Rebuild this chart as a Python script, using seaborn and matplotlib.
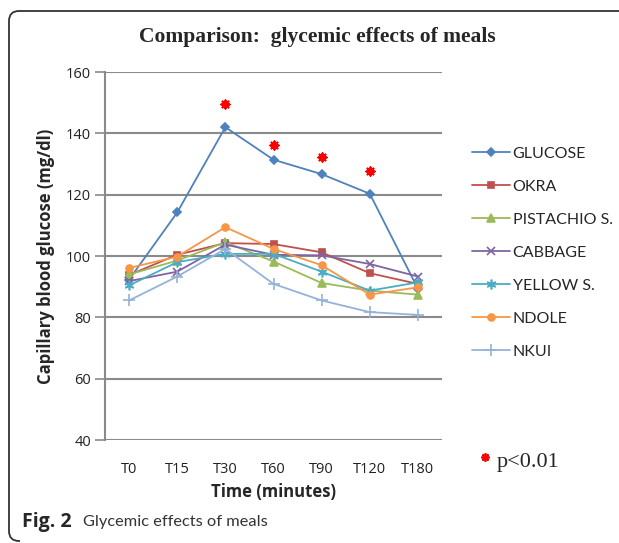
import matplotlib
matplotlib.use("Agg")
import matplotlib.pyplot as plt
from matplotlib.path import Path
from matplotlib.lines import Line2D
import matplotlib.patches as patches
from matplotlib.transforms import IdentityTransform
import seaborn as sns
import pandas as pd

times = ["T0", "T15", "T30", "T60", "T90", "T120", "T180"]
meals = ["GLUCOSE", "OKRA", "PISTACHIO S.", "CABBAGE", "YELLOW S.", "NDOLE", "NKUI"]
glucose = [92.3, 114.2, 142.0, 131.4, 126.7, 120.3, 89.3]
okra = [93.8, 100.4, 104.2, 103.9, 101.2, 94.4, 90.9]
pistachio = [94.0, 98.5, 104.5, 98.2, 91.2, 88.7, 87.4]
cabbage = [91.8, 94.9, 103.7, 100.4, 100.2, 97.4, 93.3]
yellow = [90.4, 98.0, 100.7, 100.7, 94.9, 88.7, 91.4]
ndole = [96.1, 99.8, 109.4, 102.3, 97.0, 87.4, 89.8]
nkui = [85.5, 93.3, 102.3, 90.9, 85.5, 81.7, 80.8]
sig_times = ["T30", "T60", "T90", "T120"]
sig_values = [149.7, 136.3, 132.3, 127.7]

series = [glucose, okra, pistachio, cabbage, yellow, ndole, nkui]
colors = ["#4F81BD", "#C0504D", "#9BBB59", "#8064A2", "#4BACC6", "#F79646", "#95B3D7"]
marks = ["D", "s", "^", "x", (6, 2, 0), "o", "+"]
msizes = [4, 5, 6, 6, 7, 5, 8]

rows = []
for m, vals in zip(meals, series):
    for t, v in zip(times, vals):
        rows.append({"time": t, "value": v, "meal": m})
df = pd.DataFrame(rows)

sns.set_style("white")
fig = plt.figure(figsize=(6.19, 5.43), dpi=100)
ax = fig.add_axes([105 / 619, 1 - 440 / 543, (442 - 105) / 619, (440 - 72) / 543])

for m, c, mk, ms in zip(meals, colors, marks, msizes):
    sub = df[df["meal"] == m]
    sns.lineplot(data=sub, x="time", y="value", ax=ax, color=c, marker=mk,
                 markersize=ms, markeredgecolor=c, markeredgewidth=1.2,
                 linewidth=1.3, sort=False, label=m)

sig_df = pd.DataFrame({"time": sig_times, "value": sig_values})
ax.scatter(sig_df["time"], sig_df["value"], marker=(8, 2, 0), s=36, color="red",
           linewidths=1.4, zorder=5)

ax.set_xlim(-0.5, 6.5)
ax.set_ylim(40, 160)
ax.set_yticks(range(40, 161, 20))
ax.yaxis.grid(True, color="#8a8a8a", linewidth=1.5)
ax.set_axisbelow(True)
for s in ["top", "right", "bottom"]:
    ax.spines[s].set_visible(False)
ax.spines["left"].set_color("#8a8a8a")
ax.spines["left"].set_linewidth(1.5)
ax.tick_params(axis="y", which="both", left=True, length=7, width=1.2, color="#8a8a8a",
               labelsize=10.5, pad=3, labelcolor="#222222")
ax.tick_params(axis="x", bottom=False, labelsize=10.5, pad=12, labelcolor="#222222")
for lab in ax.get_xticklabels() + ax.get_yticklabels():
    lab.set_fontfamily("Open Sans")

ax.set_xlabel("Time (minutes)", fontsize=12, fontweight="bold", family="Open Sans", labelpad=5)
ax.set_ylabel("Capillary blood glucose (mg/dl)", fontsize=12, fontweight="bold",
              family="Open Sans", labelpad=8)

leg = ax.legend(loc="upper left", bbox_to_anchor=(1.046, 0.836), frameon=False,
                handlelength=2.4, handletextpad=0.15, labelspacing=1.18,
                prop={"family": "Lato", "size": 11.5})

fig.text(317 / 619, 1 - 37 / 543, "Comparison:  glycemic effects of meals", ha="center",
         va="center", fontsize=15.5, fontweight="bold", family="Liberation Serif")
fig.add_artist(Line2D([485 / 619], [1 - 457 / 543], marker=(8, 2, 0), markersize=6,
                      color="red", markeredgewidth=1.3, linestyle="none",
                      transform=fig.transFigure))
fig.text(497 / 619, 1 - 463 / 543, "p<0.01", ha="left", va="center", fontsize=16,
         family="Liberation Serif")
fig.text(22 / 619, 1 - 522 / 543, "Fig. 2", ha="left", va="center", fontsize=14,
         fontweight="bold", family="Open Sans")
fig.text(83 / 619, 1 - 522 / 543, "Glycemic effects of meals", ha="left", va="center",
         fontsize=11.8, family="Lato", color="#333333")

# decorative frame: left and top edges with rounded corners
H = 543
r = 10
verts = [(700, H - 11), (9 + r, H - 11), (9, H - 11), (9, H - 11 - r),
         (9, 2 + r), (9, 2), (9 + r, 2), (20, 2)]
codes = [Path.MOVETO, Path.LINETO, Path.CURVE3, Path.CURVE3,
         Path.LINETO, Path.CURVE3, Path.CURVE3, Path.LINETO]
frame = patches.PathPatch(Path(verts, codes), transform=IdentityTransform(), fill=False,
                          ec="#333333", lw=1.3, clip_on=False)
fig.add_artist(frame)

fig.savefig("out.png", dpi=100)
